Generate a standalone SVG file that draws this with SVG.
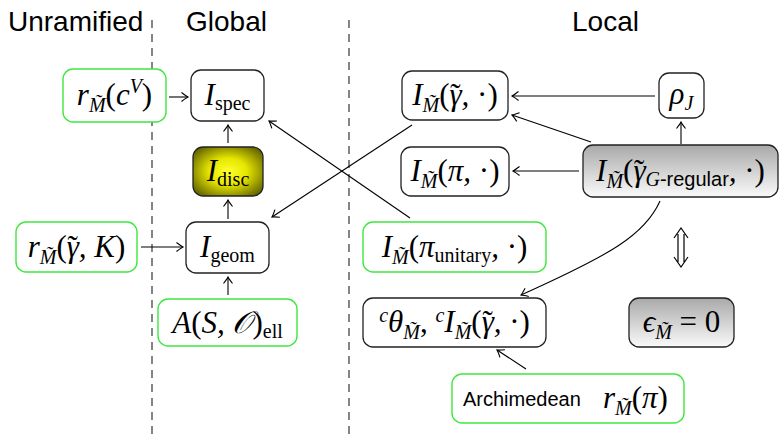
<svg xmlns="http://www.w3.org/2000/svg" width="779" height="436" viewBox="0 0 779 436">
<style>
.bg{fill:#fff}
.hd{font-family:"Liberation Sans",Arial,sans-serif;font-size:28px;fill:#000}
.box{fill:#fff;stroke:#222;stroke-width:1.3}
.gbox{fill:#fff;stroke:#3ee83e;stroke-width:1.4}
.m{font-family:"Liberation Serif","DejaVu Serif",serif;font-size:31px;font-style:italic;fill:#000}
.rm{font-style:normal}
.s{font-size:20px}
.sf{font-family:"Liberation Sans",Arial,sans-serif;font-style:normal}
.dash{stroke:#444;stroke-width:1.3;stroke-dasharray:8 6;fill:none}
.c{stroke:#000;stroke-width:1.1;fill:none;marker-end:url(#ah)}
</style>
<defs>
<marker id="ah" viewBox="-8 -6 10 12" markerWidth="10" markerHeight="12" refX="0" refY="0" orient="auto" markerUnits="userSpaceOnUse">
<path d="M-6.5,-4.5 Q-2,-1 0,0 Q-2,1 -6.5,4.5" fill="none" stroke="#000" stroke-width="1.1"/>
</marker>
<radialGradient id="yel" cx="50%" cy="50%" r="60%">
<stop offset="0" stop-color="#ffff30"/>
<stop offset="0.45" stop-color="#e6e600"/>
<stop offset="1" stop-color="#6b6b00"/>
</radialGradient>
<linearGradient id="gry" x1="0" y1="0" x2="0" y2="1">
<stop offset="0" stop-color="#a9a9a9"/>
<stop offset="1" stop-color="#fafafa"/>
</linearGradient>
</defs>
<rect class="bg" x="0" y="0" width="779" height="436"/>

<g id="headers">
<text class="hd" x="8" y="31">Unramified</text>
<text class="hd" x="186" y="31">Global</text>
<text class="hd" x="572" y="31">Local</text>
<line class="dash" x1="152" y1="20" x2="152" y2="436"/>
<line class="dash" x1="349" y1="20" x2="349" y2="436"/>
</g>

<g id="connectors">
<line class="c" x1="169" y1="97" x2="188" y2="97"/>
<line class="c" x1="228" y1="143" x2="228" y2="125"/>
<line class="c" x1="228" y1="219" x2="228" y2="200"/>
<line class="c" x1="228" y1="295" x2="228" y2="277"/>
<line class="c" x1="141" y1="247" x2="183" y2="247"/>
<line class="c" x1="410" y1="218" x2="269" y2="121"/>
<line class="c" x1="412" y1="125" x2="272" y2="217"/>
<line class="c" x1="655" y1="96" x2="512" y2="96"/>
<line class="c" x1="591" y1="142" x2="512" y2="115"/>
<line class="c" x1="681" y1="144" x2="681" y2="122"/>
<line class="c" x1="579" y1="171" x2="513" y2="171"/>
<path class="c" d="M660,201 C645,235 610,255 521,295"/>
<line class="c" x1="526" y1="369" x2="497" y2="350"/>
<path d="M674,238 L681,228 L688,238 M678,234 V262 M684,234 V262 M674,257 L681,267 L688,257" fill="none" stroke="#000" stroke-width="1.2" stroke-linejoin="miter"/>
</g>

<g id="n_rcV">
<rect class="gbox" x="63" y="69" width="103" height="53" rx="10"/>
<text class="m" x="114.5" y="105" text-anchor="middle">r<tspan class="s" dy="7">M̃</tspan><tspan class="rm" dy="-7">(</tspan>c<tspan class="s" dy="-12">V</tspan><tspan class="rm" dy="12">)</tspan></text>
</g>

<g id="n_Ispec">
<rect class="box" x="191" y="70" width="73" height="51" rx="10"/>
<text class="m" x="227.5" y="105" text-anchor="middle">I<tspan class="s rm" dy="5">spec</tspan></text>
</g>

<g id="n_Idisc">
<rect x="193" y="147" width="70" height="49" rx="10" fill="url(#yel)" stroke="#222" stroke-width="1.3"/>
<text class="m" x="228" y="181" text-anchor="middle">I<tspan class="s rm" dy="5">disc</tspan></text>
</g>

<g id="n_Igeom">
<rect class="box" x="186" y="222" width="83" height="51" rx="10"/>
<text class="m" x="227.5" y="257" text-anchor="middle">I<tspan class="s rm" dy="5">geom</tspan></text>
</g>

<g id="n_rgK">
<rect class="gbox" x="16" y="222" width="121" height="50" rx="10"/>
<text class="m" x="76.5" y="257" text-anchor="middle">r<tspan class="s" dy="7">M̃</tspan><tspan class="rm" dy="-7">(</tspan>γ<tspan class="rm" dx="-11.5">˜</tspan><tspan dx="1">, K</tspan><tspan class="rm">)</tspan></text>
</g>

<g id="n_ASO">
<rect class="gbox" x="158" y="299" width="139" height="47" rx="10"/>
<text class="m" x="227.5" y="333" text-anchor="middle">A<tspan class="rm">(</tspan>S, 𝒪<tspan class="rm">)</tspan><tspan class="s rm" dy="5">ell</tspan></text>
</g>

<g id="n_IMg">
<rect class="box" x="402" y="71" width="106" height="49" rx="10"/>
<text class="m" x="455" y="105" text-anchor="middle">I<tspan class="s" dy="7">M̃</tspan><tspan class="rm" dy="-7">(</tspan>γ<tspan class="rm" dx="-11.5">˜</tspan><tspan dx="1">, </tspan><tspan class="rm">·)</tspan></text>
</g>

<g id="n_rho">
<rect class="box" x="659" y="73" width="45" height="45" rx="10"/>
<text class="m" x="681.5" y="104" text-anchor="middle">ρ<tspan class="s" dy="6">J</tspan></text>
</g>

<g id="n_IMpi">
<rect class="box" x="401" y="147" width="108" height="49" rx="10"/>
<text class="m" x="455" y="181" text-anchor="middle">I<tspan class="s" dy="7">M̃</tspan><tspan class="rm" dy="-7">(</tspan>π, <tspan class="rm">·)</tspan></text>
</g>

<g id="n_IMgreg">
<rect x="583" y="145" width="195" height="52" rx="10" fill="url(#gry)" stroke="#222" stroke-width="1.3"/>
<text class="m" x="680.5" y="181" text-anchor="middle">I<tspan class="s" dy="7">M̃</tspan><tspan class="rm" dy="-7">(</tspan>γ<tspan class="rm" dx="-11.5">˜</tspan><tspan class="s" dx="1" dy="5">G</tspan><tspan class="s sf">-regular</tspan><tspan dy="-5">, </tspan><tspan class="rm">·)</tspan></text>
</g>

<g id="n_IMpiu">
<rect class="gbox" x="363" y="222" width="183" height="50" rx="10"/>
<text class="m" x="454.5" y="257" text-anchor="middle">I<tspan class="s" dy="7">M̃</tspan><tspan class="rm" dy="-7">(</tspan>π<tspan class="s rm" dy="5">unitary</tspan><tspan dy="-5">, </tspan><tspan class="rm">·)</tspan></text>
</g>

<g id="n_ctheta">
<rect class="box" x="363" y="298" width="183" height="49" rx="10"/>
<text class="m" x="454.5" y="332" text-anchor="middle"><tspan class="s" dy="-10">c</tspan><tspan dy="10">θ</tspan><tspan class="s" dy="7">M̃</tspan><tspan class="rm" dy="-7">, </tspan><tspan class="s" dy="-10">c</tspan><tspan dy="10">I</tspan><tspan class="s" dy="7">M̃</tspan><tspan class="rm" dy="-7">(</tspan>γ<tspan class="rm" dx="-11.5">˜</tspan><tspan dx="1">, </tspan><tspan class="rm">·)</tspan></text>
</g>

<g id="n_eps">
<rect x="629" y="298" width="105" height="49" rx="10" fill="url(#gry)" stroke="#222" stroke-width="1.3"/>
<text class="m" x="681.5" y="332" text-anchor="middle">ϵ<tspan class="s" dy="7">M̃</tspan><tspan class="rm" dy="-7"> = 0</tspan></text>
</g>

<g id="n_arch">
<rect class="gbox" x="452" y="374" width="232" height="49" rx="10"/>
<text class="sf" x="463" y="406" font-size="20">Archimedean</text>
<text class="m" x="603" y="408">r<tspan class="s" dy="7">M̃</tspan><tspan class="rm" dy="-7">(</tspan>π<tspan class="rm">)</tspan></text>
</g>
</svg>
